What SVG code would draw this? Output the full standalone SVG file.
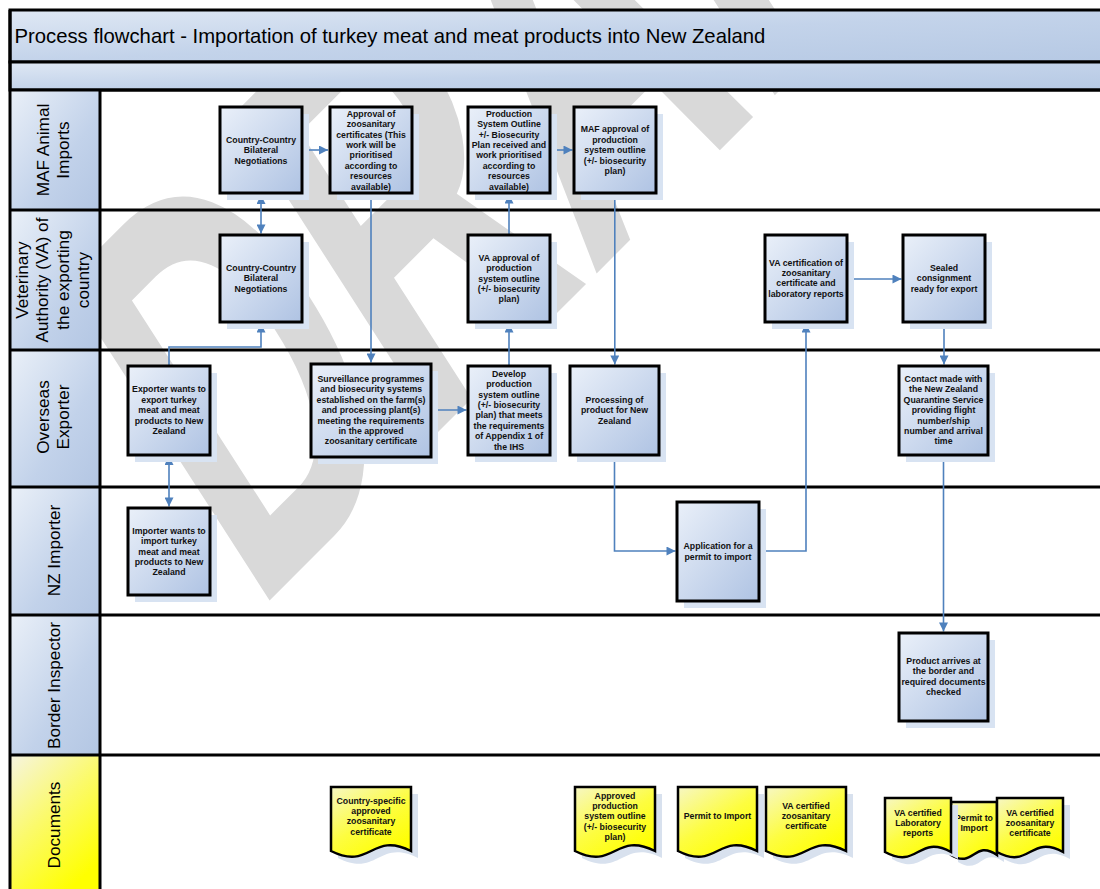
<svg xmlns="http://www.w3.org/2000/svg" width="1100" height="889" viewBox="0 0 1100 889">
<defs>
<linearGradient id="gBox" x1="0" y1="0" x2="1" y2="1"><stop offset="0" stop-color="#eaf0f9"/><stop offset="1" stop-color="#afc3e3"/></linearGradient>
<linearGradient id="gBar" x1="0" y1="0" x2="1" y2="1"><stop offset="0" stop-color="#dfe8f4"/><stop offset="0.5" stop-color="#c3d3ea"/><stop offset="1" stop-color="#b6c9e4"/></linearGradient>
<linearGradient id="gLbl" x1="0" y1="0" x2="1" y2="1"><stop offset="0" stop-color="#eaf0f8"/><stop offset="0.6" stop-color="#c2d2ea"/><stop offset="1" stop-color="#b3c6e3"/></linearGradient>
<linearGradient id="gDocLbl" x1="0" y1="0" x2="0.6" y2="1"><stop offset="0" stop-color="#f6f4e2"/><stop offset="0.5" stop-color="#fbfa6a"/><stop offset="1" stop-color="#ffff00"/></linearGradient>
<linearGradient id="gDoc" x1="0" y1="0" x2="0.7" y2="1"><stop offset="0" stop-color="#f7f7c4"/><stop offset="0.55" stop-color="#fdfd40"/><stop offset="1" stop-color="#ffff00"/></linearGradient>
<marker id="ah" viewBox="0 0 10 10" refX="10" refY="5" markerWidth="10" markerHeight="9" markerUnits="userSpaceOnUse" orient="auto-start-reverse"><path d="M0,0 L10,5 L0,10 z" fill="#4f81bd"/></marker>
<style>
.bx{fill:url(#gBox);stroke:#000;stroke-width:3}
.sh{fill:#d8e3f2}
.dsh{fill:#d8e1ee}
.doc{fill:url(#gDoc);stroke:#000;stroke-width:2.5}
.t{font-family:"Liberation Sans",Arial,sans-serif;font-size:8.75px;font-weight:bold;fill:#111;text-anchor:middle}
.ln{fill:none;stroke:#4f81bd;stroke-width:1.6}
.lbl{font-family:"Liberation Sans",Arial,sans-serif;font-size:17.2px;fill:#000;text-anchor:middle}
.cell{fill:url(#gLbl)}
</style>
</defs>
<rect x="0" y="0" width="1100" height="889" fill="#fff"/>
<text id="watermark" x="0" y="0" transform="matrix(0.424,-0.424,0.54,0.84,254,616)" font-family="Liberation Sans, Arial, sans-serif" font-weight="bold" font-size="550" fill="#d9d9d9">DRAFT</text>

<g id="frame">
<rect x="10" y="10" width="1095" height="52" fill="url(#gBar)" stroke="#000" stroke-width="3"/>
<text x="14.5" y="42.7" font-family="Liberation Sans, Arial, sans-serif" font-size="20.3" fill="#000">Process flowchart - Importation of turkey meat and meat products into New Zealand</text>
<rect x="10" y="62" width="1095" height="28" fill="url(#gBar)" stroke="#000" stroke-width="3"/>
</g>

<g id="lanes">
<rect class="cell" x="10" y="90" width="90" height="120"/>
<rect class="cell" x="10" y="210" width="90" height="140"/>
<rect class="cell" x="10" y="350" width="90" height="137"/>
<rect class="cell" x="10" y="487" width="90" height="128"/>
<rect class="cell" x="10" y="615" width="90" height="140"/>
<rect x="10" y="755" width="90" height="140" fill="url(#gDocLbl)"/>
<path d="M10,90 H1100 M10,210 H1100 M10,350 H1100 M10,487 H1100 M10,615 H1100 M10,755 H1100 M100,90 V889 M10,10 V889" stroke="#000" stroke-width="3" fill="none"/>
<text class="lbl" transform="translate(0,150) rotate(-90)"><tspan x="0" y="49.2">MAF Animal</tspan><tspan x="0" y="68.7">Imports</tspan></text>
<text class="lbl" transform="translate(0,280) rotate(-90)"><tspan x="0" y="27.5">Veterinary</tspan><tspan x="0" y="48">Authority (VA) of</tspan><tspan x="0" y="68.5">the exporting</tspan><tspan x="0" y="89">country</tspan></text>
<text class="lbl" transform="translate(0,417) rotate(-90)"><tspan x="0" y="49.2">Overseas</tspan><tspan x="0" y="69.2">Exporter</tspan></text>
<text class="lbl" transform="translate(0,550.5) rotate(-90)"><tspan x="0" y="60">NZ Importer</tspan></text>
<text class="lbl" transform="translate(0,685.5) rotate(-90)"><tspan x="0" y="60">Border Inspector</tspan></text>
<text class="lbl" transform="translate(0,825) rotate(-90)"><tspan x="0" y="60">Documents</tspan></text>
</g>

<g id="connectors">
<path class="ln" d="M302,150 H328" marker-end="url(#ah)"/>
<path class="ln" d="M261,195 V233.5" marker-start="url(#ah)" marker-end="url(#ah)"/>
<path class="ln" d="M371,194.5 V362.5" marker-end="url(#ah)"/>
<path class="ln" d="M550,150 H572.5" marker-end="url(#ah)"/>
<path class="ln" d="M509,235 V194.5" marker-end="url(#ah)"/>
<path class="ln" d="M509,366 V323.5" marker-end="url(#ah)"/>
<path class="ln" d="M614.8,194.5 V364.5" marker-end="url(#ah)"/>
<path class="ln" d="M614.5,455 V551 H675.5" marker-end="url(#ah)"/>
<path class="ln" d="M759,551 H806 V323.5" marker-end="url(#ah)"/>
<path class="ln" d="M847,279 H901.5" marker-end="url(#ah)"/>
<path class="ln" d="M944,322 V364.5" marker-end="url(#ah)"/>
<path class="ln" d="M943.5,455 V631.5" marker-end="url(#ah)"/>
<path class="ln" d="M169,366 V347 H261 V323.5" marker-end="url(#ah)"/>
<path class="ln" d="M169,456 V506.5" marker-start="url(#ah)" marker-end="url(#ah)"/>
<path class="ln" d="M431,410 H466.5" marker-end="url(#ah)"/>
</g>

<g id="n-cc-maf"><rect class="sh" x="227" y="114" width="82" height="86"/><rect class="bx" x="220" y="107" width="82" height="86"/><text class="t"><tspan x="261" y="142.7">Country-Country</tspan><tspan x="261" y="153.1">Bilateral</tspan><tspan x="261" y="163.5">Negotiations</tspan></text></g>
<g id="n-approval"><rect class="sh" x="337" y="114" width="82" height="86"/><rect class="bx" x="330" y="107" width="82" height="86"/><text class="t"><tspan x="371" y="116.7">Approval of</tspan><tspan x="371" y="127.1">zoosanitary</tspan><tspan x="371" y="137.5">certificates (This</tspan><tspan x="371" y="147.9">work will be</tspan><tspan x="371" y="158.3">prioritised</tspan><tspan x="371" y="168.7">according to</tspan><tspan x="371" y="179.1">resources</tspan><tspan x="371" y="189.5">available)</tspan></text></g>
<g id="n-pso"><rect class="sh" x="475" y="114" width="82" height="86"/><rect class="bx" x="468" y="107" width="82" height="86"/><text class="t"><tspan x="509" y="116.7">Production</tspan><tspan x="509" y="127.1">System Outline</tspan><tspan x="509" y="137.5">+/- Biosecurity</tspan><tspan x="509" y="147.9">Plan received and</tspan><tspan x="509" y="158.3">work prioritised</tspan><tspan x="509" y="168.7">according to</tspan><tspan x="509" y="179.1">resources</tspan><tspan x="509" y="189.5">available)</tspan></text></g>
<g id="n-maf-approval"><rect class="sh" x="581" y="114" width="82" height="86"/><rect class="bx" x="574" y="107" width="82" height="86"/><text class="t"><tspan x="615" y="132.3">MAF approval of</tspan><tspan x="615" y="142.7">production</tspan><tspan x="615" y="153.1">system outline</tspan><tspan x="615" y="163.5">(+/- biosecurity</tspan><tspan x="615" y="173.9">plan)</tspan></text></g>

<g id="n-cc-va"><rect class="sh" x="227" y="242" width="82" height="87"/><rect class="bx" x="220" y="235" width="82" height="87"/><text class="t"><tspan x="261" y="270.7">Country-Country</tspan><tspan x="261" y="281.1">Bilateral</tspan><tspan x="261" y="291.5">Negotiations</tspan></text></g>
<g id="n-va-approval"><rect class="sh" x="475" y="242" width="82" height="87"/><rect class="bx" x="468" y="235" width="82" height="87"/><text class="t"><tspan x="509" y="260.7">VA approval of</tspan><tspan x="509" y="271.1">production</tspan><tspan x="509" y="281.5">system outline</tspan><tspan x="509" y="291.9">(+/- biosecurity</tspan><tspan x="509" y="302.3">plan)</tspan></text></g>
<g id="n-va-cert"><rect class="sh" x="772" y="242" width="82" height="87"/><rect class="bx" x="765" y="235" width="82" height="87"/><text class="t"><tspan x="806" y="265.5">VA certification of</tspan><tspan x="806" y="275.9">zoosanitary</tspan><tspan x="806" y="286.3">certificate and</tspan><tspan x="806" y="296.7">laboratory reports</tspan></text></g>
<g id="n-sealed"><rect class="sh" x="910" y="242" width="82" height="87"/><rect class="bx" x="903" y="235" width="82" height="87"/><text class="t"><tspan x="944" y="270.7">Sealed</tspan><tspan x="944" y="281.1">consignment</tspan><tspan x="944" y="291.5">ready for export</tspan></text></g>

<g id="n-exporter"><rect class="sh" x="135" y="373" width="82" height="89"/><rect class="bx" x="128" y="366" width="82" height="89"/><text class="t"><tspan x="169" y="392.3">Exporter wants to</tspan><tspan x="169" y="402.7">export turkey</tspan><tspan x="169" y="413.1">meat and meat</tspan><tspan x="169" y="423.5">products to New</tspan><tspan x="169" y="433.9">Zealand</tspan></text></g>
<g id="n-surveillance"><rect class="sh" x="318" y="371" width="120" height="93"/><rect class="bx" x="311" y="364" width="120" height="93"/><text class="t"><tspan x="371" y="381.9">Surveillance programmes</tspan><tspan x="371" y="392.3">and biosecurity systems</tspan><tspan x="371" y="402.7">established on the farm(s)</tspan><tspan x="371" y="413.1">and processing plant(s)</tspan><tspan x="371" y="423.5">meeting the requirements</tspan><tspan x="371" y="433.9">in the approved</tspan><tspan x="371" y="444.3">zoosanitary certificate</tspan></text></g>
<g id="n-develop"><rect class="sh" x="475" y="373" width="82" height="89"/><rect class="bx" x="468" y="366" width="82" height="89"/><text class="t"><tspan x="509" y="376.7">Develop</tspan><tspan x="509" y="387.1">production</tspan><tspan x="509" y="397.5">system outline</tspan><tspan x="509" y="407.9">(+/- biosecurity</tspan><tspan x="509" y="418.3">plan)  that meets</tspan><tspan x="509" y="428.7">the requirements</tspan><tspan x="509" y="439.1">of Appendix 1 of</tspan><tspan x="509" y="449.5">the IHS</tspan></text></g>
<g id="n-processing"><rect class="sh" x="577" y="373" width="89" height="89"/><rect class="bx" x="570" y="366" width="89" height="89"/><text class="t"><tspan x="614.5" y="402.7">Processing of</tspan><tspan x="614.5" y="413.1">product for New</tspan><tspan x="614.5" y="423.5">Zealand</tspan></text></g>
<g id="n-contact"><rect class="sh" x="906" y="373" width="89" height="89"/><rect class="bx" x="899" y="366" width="89" height="89"/><text class="t"><tspan x="943.5" y="381.9">Contact made with</tspan><tspan x="943.5" y="392.3">the New Zealand</tspan><tspan x="943.5" y="402.7">Quarantine Service</tspan><tspan x="943.5" y="413.1">providing flight</tspan><tspan x="943.5" y="423.5">number/ship</tspan><tspan x="943.5" y="433.9">number and arrival</tspan><tspan x="943.5" y="444.3">time</tspan></text></g>

<g id="n-importer"><rect class="sh" x="135" y="515" width="82" height="87"/><rect class="bx" x="128" y="508" width="82" height="87"/><text class="t"><tspan x="169" y="533.8">Importer wants to</tspan><tspan x="169" y="544.2">import turkey</tspan><tspan x="169" y="554.6">meat and meat</tspan><tspan x="169" y="565">products to New</tspan><tspan x="169" y="575.4">Zealand</tspan></text></g>
<g id="n-application"><rect class="sh" x="684" y="509" width="82" height="99"/><rect class="bx" x="677" y="502" width="82" height="99"/><text class="t"><tspan x="718" y="549.4">Application for a</tspan><tspan x="718" y="559.8">permit to import</tspan></text></g>

<g id="n-arrives"><rect class="sh" x="906" y="640" width="89" height="88"/><rect class="bx" x="899" y="633" width="89" height="88"/><text class="t"><tspan x="943.5" y="664">Product arrives at</tspan><tspan x="943.5" y="674.4">the border and</tspan><tspan x="943.5" y="684.8">required documents</tspan><tspan x="943.5" y="695.2">checked</tspan></text></g>

<g id="d-country-cert"><path class="dsh" d="M338,794 H418 V858 C378,838 378,878 338,858 Z"/><path class="doc" d="M331,787 H411 V851 C371,831 371,871 331,851 Z"/><text class="t"><tspan x="371" y="803.6">Country-specific</tspan><tspan x="371" y="813.9">approved</tspan><tspan x="371" y="824.2">zoosanitary</tspan><tspan x="371" y="834.5">certificate</tspan></text></g>
<g id="d-approved-pso"><path class="dsh" d="M582,794 H662 V858 C622,838 622,878 582,858 Z"/><path class="doc" d="M575,787 H655 V851 C615,831 615,871 575,851 Z"/><text class="t"><tspan x="615" y="798.8">Approved</tspan><tspan x="615" y="809.1">production</tspan><tspan x="615" y="819.4">system outline</tspan><tspan x="615" y="829.7">(+/- biosecurity</tspan><tspan x="615" y="840">plan)</tspan></text></g>
<g id="d-permit"><path class="dsh" d="M685,794 H764 V858 C724.5,838 724.5,878 685,858 Z"/><path class="doc" d="M678,787 H757 V851 C717.5,831 717.5,871 678,851 Z"/><text class="t"><tspan x="717.5" y="819.4">Permit to Import</tspan></text></g>
<g id="d-va-cert"><path class="dsh" d="M773,794 H853 V858 C813,838 813,878 773,858 Z"/><path class="doc" d="M766,787 H846 V851 C806,831 806,871 766,851 Z"/><text class="t"><tspan x="806" y="808.8">VA certified</tspan><tspan x="806" y="819.1">zoosanitary</tspan><tspan x="806" y="829.4">certificate</tspan></text></g>
<g id="d-permit-2"><path class="dsh" d="M958,809 H1004 V862 C981,846 981,876 958,862 Z"/><path class="doc" d="M951,802 H997 V855 C974,839 974,869 951,855 Z"/><text class="t"><tspan x="974" y="820.9">Permit to</tspan><tspan x="974" y="831.2">Import</tspan></text></g>
<g id="d-lab"><path class="dsh" d="M892,805 H958 V859 C925,841 925,877 892,859 Z"/><path class="doc" d="M885,798 H951 V852 C918,834 918,870 885,852 Z"/><text class="t"><tspan x="918" y="815.5">VA certified</tspan><tspan x="918" y="825.8">Laboratory</tspan><tspan x="918" y="836.1">reports</tspan></text></g>
<g id="d-va-cert-2"><path class="dsh" d="M1004,805 H1070 V859 C1037,841 1037,877 1004,859 Z"/><path class="doc" d="M997,798 H1063 V852 C1030,834 1030,870 997,852 Z"/><text class="t"><tspan x="1030" y="815.5">VA certified</tspan><tspan x="1030" y="825.8">zoosanitary</tspan><tspan x="1030" y="836.1">certificate</tspan></text></g>
</svg>
